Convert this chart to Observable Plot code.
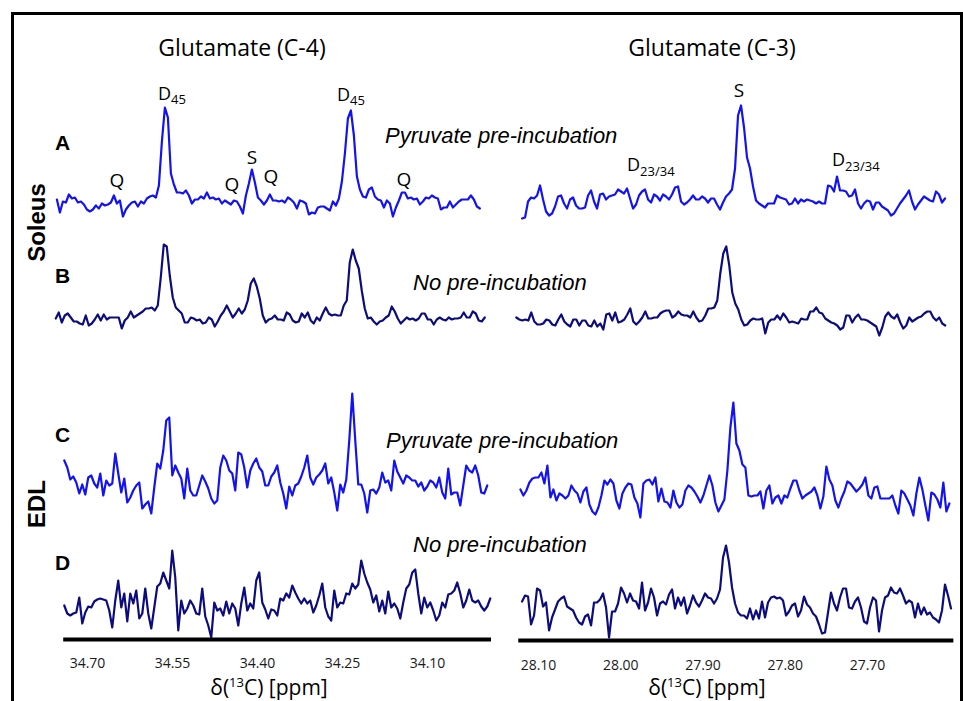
<!DOCTYPE html>
<html><head><meta charset="utf-8">
<script src="https://cdn.jsdelivr.net/npm/d3@7"></script>
<script src="https://cdn.jsdelivr.net/npm/@observablehq/plot@0.6"></script>
<style>
body{margin:0;background:#fff;}
#fig{position:relative;width:963px;height:701px;overflow:hidden;background:#fff;}
.frame{position:absolute;left:11px;top:12px;width:946px;height:760px;border:3px solid #000;border-bottom:none;}
.cell{position:absolute;}
</style></head><body><div id="fig"><div class="frame"></div></div>
<script>
const BLUE = "#1212f2", NAVY = "#0c0c7c";
// spectral sampling (ppm per point)
const C4_STEP = 0.005294, C3_STEP = 0.003647;
const c4Ticks = [34.70, 34.55, 34.40, 34.25, 34.10];
const c3Ticks = [28.10, 28.00, 27.90, 27.80, 27.70];
// first-point chemical shift of each trace (rows A, B, C, D)
const c4Starts = [34.754, 34.756, 34.741, 34.741];
const c3Starts = [28.120, 28.127, 28.122, 28.120];

// Glutamate C-4 region, intensities (a.u.)
const c4A = [4,-9,2,1,9,5,6,1,2,-1,-6,-8,-6,-2,-5,0,-2,-1,1,8,0,3,-13,-6,-2,1,2,-3,2,0,5,7,8,6,18,62,96,86,30,19,11,11,10,13,8,0,4,4,7,5,11,5,6,4,5,0,3,1,-1,3,2,-3,-10,8,20,34,21,6,3,-1,3,9,3,3,2,3,1,6,4,1,-5,3,2,0,-11,-9,-10,-4,-3,-3,-5,-7,2,-2,5,22,50,85,93,68,27,14,7,6,14,16,7,4,3,-4,3,0,-13,-4,3,11,11,5,6,4,5,-1,2,6,5,8,6,5,-6,-4,-4,2,-4,-1,2,4,4,4,8,4,-3,-5];
const c4B = [2,8,-2,5,7,3,-1,-1,-3,-4,5,-5,-3,1,6,0,6,1,3,3,3,3,-8,0,3,9,3,5,7,9,12,12,13,10,15,43,76,74,45,23,13,10,7,-2,-2,3,2,0,1,-3,-2,3,1,-6,-1,5,9,15,9,3,7,12,7,11,20,37,42,34,22,5,-2,1,2,5,1,1,0,8,6,0,-2,-1,7,3,8,0,-3,3,0,7,13,7,5,6,5,5,15,20,58,71,60,52,30,12,2,3,-1,-4,-1,0,3,5,14,9,2,-3,0,3,1,2,0,2,7,7,1,1,-4,1,3,1,0,3,1,2,2,3,8,3,3,9,7,0,-1,3];
const c4C = [23,16,4,7,1,-10,-1,-11,6,8,0,-4,10,-12,3,-2,0,30,10,-9,5,-19,-14,-7,-2,1,-25,-21,-18,-30,-4,20,15,33,63,66,8,18,11,5,-15,15,-7,-12,-12,-2,8,2,-5,-15,-20,-17,16,28,23,13,10,-7,31,29,16,-4,13,20,25,16,12,-2,-2,7,11,18,1,-10,-25,-3,-12,-2,0,7,16,28,6,-1,6,9,13,20,0,6,-9,-27,-1,-9,4,43,90,43,-1,-1,-10,-29,-7,-6,-10,-4,11,1,3,-7,23,12,6,0,8,6,3,3,-3,1,-7,-3,3,1,-4,6,-9,-15,15,-11,-9,-9,-22,-2,18,13,11,18,8,-9,-10,-2];
const c4D = [3,-5,-7,-5,-4,11,-15,-4,2,1,7,9,10,9,8,-2,-19,8,28,1,15,-13,15,5,18,-10,-5,20,-5,-20,1,22,25,36,28,20,58,31,-22,8,-5,0,8,3,-5,-6,20,-8,-17,-29,6,-2,0,-7,7,-5,5,0,-17,5,21,-2,5,0,28,36,6,-1,-10,-1,-2,-7,10,8,15,11,23,16,10,5,10,5,8,-4,3,13,25,1,-8,-12,18,1,6,5,15,14,25,20,24,48,35,26,19,6,13,-3,8,-5,17,1,5,0,-10,6,20,24,36,39,15,-5,11,1,6,-2,-12,-7,6,1,14,15,18,26,15,1,8,19,8,6,8,2,-2,2,10];

// Glutamate C-3 region, intensities (a.u.)
const c3A = [-15,-14,2,6,5,8,18,4,-8,-12,-10,-3,7,8,0,-5,4,6,-2,-5,-5,-4,8,13,2,-5,9,10,4,7,8,9,14,12,10,15,5,-5,-1,8,12,14,4,1,9,7,3,9,7,4,9,16,17,2,-1,1,4,8,4,4,7,5,1,5,5,-1,-6,1,7,10,14,35,88,98,76,46,35,17,3,0,-2,-4,0,0,0,8,6,5,4,-1,0,5,0,4,2,4,3,2,0,2,0,0,18,17,12,27,13,13,12,7,8,14,0,-5,0,3,2,-6,1,1,-3,-5,-7,-12,-10,-5,0,4,8,13,2,-6,-1,3,7,5,3,2,12,9,1,5];
const c3B = [3,1,0,1,0,8,-1,-4,-4,-3,1,0,-4,-5,1,6,-1,-4,-6,1,1,-5,0,0,-5,-6,0,-6,-3,-9,6,7,0,8,-2,-1,1,6,12,-1,-4,-1,3,9,2,2,3,3,7,9,10,10,3,5,9,6,5,5,3,9,3,-1,0,5,12,12,13,20,47,67,74,55,28,17,11,1,-5,-4,0,2,1,1,2,-13,-2,1,1,5,1,7,3,-2,-1,-2,-3,2,1,1,9,9,13,8,7,2,0,-2,-3,-5,-9,-7,5,5,-2,3,6,1,1,0,-2,-4,-6,-15,-7,4,8,4,2,6,-2,-8,-5,3,-1,1,3,4,7,9,9,3,0,3,-3,-5];
const c3C = [4,-2,3,11,15,16,16,21,10,28,-4,4,-7,0,-2,-5,-2,8,3,0,-9,2,6,-11,-18,-21,-14,-2,13,9,14,10,-7,-15,0,6,10,9,-4,-10,-24,10,13,14,9,16,-8,5,-8,-9,-14,3,-9,-14,-11,3,8,6,2,-3,-9,-2,8,18,8,-9,-18,-12,-6,23,66,91,50,43,29,26,-2,-3,-2,-2,2,-15,3,8,-10,-4,-2,-10,-2,-4,5,13,13,3,-5,-2,0,2,6,-2,-15,-3,27,14,8,-7,-14,-5,2,12,10,6,2,5,9,16,-2,-5,6,7,-5,-5,-5,-5,-2,-12,-20,3,0,-6,-12,-22,0,16,4,-12,-27,1,-1,-6,-14,11,-18,-10];
const c3D = [11,17,16,-12,-3,24,22,6,10,-18,-5,3,11,14,16,6,4,2,-5,-10,-12,-4,-2,-13,10,10,13,19,5,-25,1,1,9,25,19,10,19,12,11,4,30,2,10,24,15,-3,9,11,8,18,23,4,15,7,15,-1,7,17,10,6,12,19,15,14,9,14,23,55,67,50,25,9,0,-3,-3,-6,4,-7,2,-6,11,-5,10,15,16,14,15,12,-3,1,7,9,-4,2,16,8,5,-1,-4,-12,-21,-20,0,20,9,2,15,24,24,5,4,11,15,5,-9,-11,5,15,12,-19,2,15,17,25,20,19,24,17,9,12,10,-5,9,-2,5,-2,0,-5,-7,-10,2,28,17,4];

const panelLayout = [
  {left: 50, width: 445, domain: [34.70, 34.10], range: [37, 377], axisExtent: [34.742, 33.987],
   ticks: c4Ticks, step: C4_STEP, starts: c4Starts, series: [c4A, c4B, c4C, c4D], tickPadding: 19},
  {left: 505, width: 455, domain: [28.10, 27.70], range: [33, 362], axisExtent: [28.124, 27.595],
   ticks: c3Ticks, step: C3_STEP, starts: c3Starts, series: [c3A, c3B, c3C, c3D], tickPadding: 20}
];
const rowLayout = [
  {base: [203, 203], lo: [-20, -20], hi: 102, color: BLUE},
  {base: [320, 320], lo: [-20, -20], hi: 80, color: NAVY},
  {base: [483, 493], lo: [-35, -35], hi: 95, color: BLUE},
  {base: [608, 612], lo: [-31, -28], hi: 72, color: NAVY, axis: true}
];

const fig = document.getElementById("fig");
panelLayout.forEach((p, pi) => {
  rowLayout.forEach((r, ri) => {
    const vals = p.series[ri];
    const start = p.starts[ri];
    const data = vals.map((v, i) => ({ppm: start - i * p.step, v}));
    const lo = r.lo[pi], hi = r.hi;
    const h = hi - lo;
    const extra = r.axis ? 45 : 0;
    const marks = [
      Plot.line(data, {x: "ppm", y: "v", stroke: r.color, strokeWidth: 2.2, strokeLinejoin: "round", strokeLinecap: "round"})
    ];
    if (r.axis) {
      marks.push(Plot.ruleY([{y: lo, x1: p.axisExtent[0], x2: p.axisExtent[1]}],
        {y: "y", x1: "x1", x2: "x2", stroke: "#000", strokeWidth: 4}));
    }
    const svg = Plot.plot({
      width: p.width, height: h + extra,
      marginTop: 0, marginBottom: extra, marginLeft: 0, marginRight: 0,
      x: {domain: p.domain, range: p.range, axis: r.axis ? "bottom" : null, ticks: p.ticks,
          tickFormat: d => d.toFixed(2), tickSize: 0, tickPadding: p.tickPadding, label: null},
      y: {domain: [lo, hi], range: [h, 0], axis: null},
      style: {background: "transparent", overflow: "visible", fontFamily: "Open Sans", fontSize: "14px", color: "#1a1a1a"},
      marks
    });
    const cell = document.createElement("div");
    cell.className = "cell";
    cell.style.left = p.left + "px";
    cell.style.top = (r.base[pi] - hi) + "px";
    cell.style.width = p.width + "px";
    cell.appendChild(svg);
    fig.appendChild(cell);
  });
});

const ann = document.createElement("div");
ann.innerHTML = `<svg width="963" height="701" xmlns="http://www.w3.org/2000/svg" style="position:absolute;left:0;top:0;overflow:visible">
<g font-family="Open Sans" fill="#000">
<text x="242" y="56" font-size="23" text-anchor="middle">Glutamate (C-4)</text>
<text x="712" y="55.5" font-size="23" text-anchor="middle">Glutamate (C-3)</text>
<text x="158" y="100" font-size="18">D<tspan font-size="13" dy="4">45</tspan></text>
<text x="337" y="101" font-size="18">D<tspan font-size="13" dy="4">45</tspan></text>
<text x="252" y="164" font-size="19" text-anchor="middle">S</text>
<text x="117" y="187" font-size="19" text-anchor="middle">Q</text>
<text x="232" y="191" font-size="19" text-anchor="middle">Q</text>
<text x="271" y="183" font-size="19" text-anchor="middle">Q</text>
<text x="404" y="186" font-size="19" text-anchor="middle">Q</text>
<text x="739" y="97" font-size="19" text-anchor="middle">S</text>
<text x="627" y="171" font-size="18">D<tspan font-size="13" dy="5">23/34</tspan></text>
<text x="832" y="166" font-size="18">D<tspan font-size="13" dy="5">23/34</tspan></text>
<text x="269" y="695" font-size="21" text-anchor="middle">δ(<tspan font-size="13" dy="-8">13</tspan><tspan dy="8">C) [ppm]</tspan></text>
<text x="707" y="695" font-size="21" text-anchor="middle">δ(<tspan font-size="13" dy="-8">13</tspan><tspan dy="8">C) [ppm]</tspan></text>
</g>
<g font-family="Liberation Sans, Arial" font-style="italic" font-size="22" fill="#000">
<text x="385" y="143">Pyruvate pre-incubation</text>
<text x="413" y="290">No pre-incubation</text>
<text x="386" y="448">Pyruvate pre-incubation</text>
<text x="413" y="552">No pre-incubation</text>
</g>
<g font-family="Liberation Sans, Arial" font-weight="bold" font-size="21" fill="#000">
<text x="55" y="150">A</text>
<text x="55" y="283">B</text>
<text x="55" y="442">C</text>
<text x="55" y="570">D</text>
<text transform="translate(45,222.5) rotate(-90)" text-anchor="middle" font-size="24">Soleus</text>
<text transform="translate(45,504) rotate(-90)" text-anchor="middle" font-size="24">EDL</text>
</g>
</svg>`;
fig.appendChild(ann.firstElementChild);
</script></body></html>
